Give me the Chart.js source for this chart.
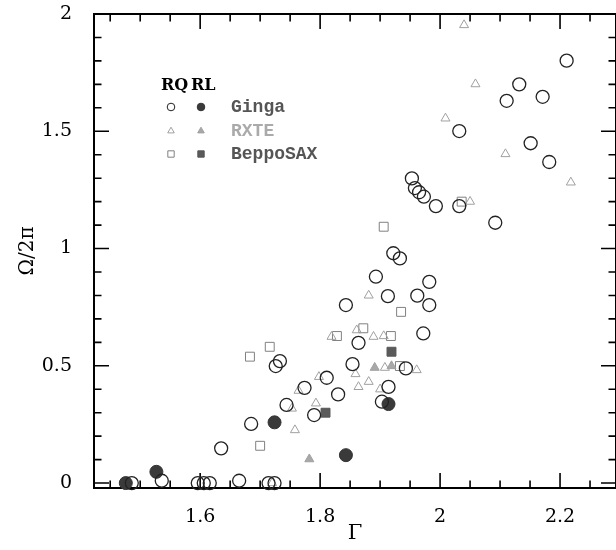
<!DOCTYPE html>
<html>
<head>
<meta charset="utf-8">
<script src="https://cdn.jsdelivr.net/npm/chart.js@4.4.1/dist/chart.umd.min.js"></script>
<style>
  html, body { margin: 0; padding: 0; background: #fff; overflow: hidden; }
</style>
</head>
<body>
<canvas id="chart" width="616" height="550"></canvas>
<script>
// photon index (Gamma) vs reflection fraction (Omega/2pi)
const gingaRQGamma = [1.486, 1.536, 1.596, 1.606, 1.616, 1.665, 1.714, 1.724, 1.635, 1.685, 1.744, 1.79, 1.774, 1.83, 1.811, 1.726, 1.733, 1.854, 1.864, 1.843, 1.903, 1.914, 1.943, 1.972, 1.913, 1.962, 1.982, 1.982, 1.893, 1.922, 1.933, 1.953, 1.958, 1.965, 1.973, 1.993, 2.032, 2.092, 2.032, 2.111, 2.132, 2.171, 2.151, 2.182, 2.211];
const gingaRQOmega = [0.0, 0.01, 0.0, 0.0, 0.0, 0.01, 0.0, 0.0, 0.148, 0.252, 0.333, 0.29, 0.406, 0.378, 0.449, 0.499, 0.52, 0.507, 0.598, 0.759, 0.347, 0.41, 0.489, 0.638, 0.797, 0.799, 0.759, 0.858, 0.88, 0.98, 0.958, 1.299, 1.258, 1.24, 1.221, 1.181, 1.181, 1.11, 1.501, 1.63, 1.70, 1.647, 1.449, 1.369, 1.801];

const gingaRLGamma = [1.476, 1.527, 1.724, 1.843, 1.914];
const gingaRLOmega = [0.0, 0.048, 0.259, 0.119, 0.337];

const rxteRQGamma = [1.72, 1.758, 1.753, 1.793, 1.764, 1.798, 1.859, 1.881, 1.864, 1.90, 1.908, 1.961, 1.819, 1.861, 1.889, 1.906, 1.881, 2.05, 2.009, 2.059, 2.04, 2.109, 2.218];
const rxteRQOmega = [0.0, 0.226, 0.318, 0.34, 0.394, 0.453, 0.465, 0.432, 0.41, 0.40, 0.492, 0.482, 0.624, 0.652, 0.624, 0.627, 0.80, 1.20, 1.555, 1.701, 1.953, 1.403, 1.282];

const rxteRLGamma = [1.782, 1.891, 1.919];
const rxteRLOmega = [0.102, 0.492, 0.499];

const saxRQGamma = [1.70, 1.683, 1.716, 1.828, 1.872, 1.918, 1.933, 1.935, 1.906, 2.036];
const saxRQOmega = [0.159, 0.539, 0.581, 0.627, 0.66, 0.627, 0.499, 0.73, 1.093, 1.20];

const saxRLGamma = [1.919, 1.809];
const saxRLOmega = [0.56, 0.30];

const xTicks = [1.6, 1.8, 2, 2.2];
const yTicks = [0, 0.5, 1, 1.5, 2];

const legendRows = ['Ginga', 'RXTE', 'BeppoSAX'];

function pts(xs, ys) {
  return xs.map((x, i) => ({ x: x, y: ys[i] }));
}

const styles = {
  gingaRQ: { pointStyle: 'circle', radius: 6.5, border: '#222', fill: 'rgba(0,0,0,0)', bw: 1.3 },
  gingaRL: { pointStyle: 'circle', radius: 6.5, border: '#333', fill: '#3a3a3a', bw: 1 },
  rxteRQ: { pointStyle: 'triangle', radius: 5.2, border: '#a0a0a0', fill: 'rgba(0,0,0,0)', bw: 1 },
  rxteRL: { pointStyle: 'triangle', radius: 5.2, border: '#a0a0a0', fill: '#a8a8a8', bw: 1 },
  saxRQ: { pointStyle: 'rect', radius: 6.3, border: '#808080', fill: 'rgba(0,0,0,0)', bw: 1 },
  saxRL: { pointStyle: 'rect', radius: 6.3, border: '#555', fill: '#5a5a5a', bw: 1 }
};

function ds(label, xs, ys, st) {
  return {
    label: label,
    data: pts(xs, ys),
    pointStyle: st.pointStyle,
    pointRadius: st.radius,
    pointBorderColor: st.border,
    pointBackgroundColor: st.fill,
    pointBorderWidth: st.bw,
    clip: false
  };
}

// frame with inward ticks on all four sides
const framePlugin = {
  id: 'frame',
  beforeDatasetsDraw(chart) {
    const ctx = chart.ctx;
    const a = chart.chartArea;
    const xs = chart.scales.x, ys = chart.scales.y;
    ctx.save();
    ctx.strokeStyle = '#000';
    ctx.lineWidth = 2;
    ctx.strokeRect(a.left, a.top, a.right - a.left, a.bottom - a.top);
    ctx.lineWidth = 1.6;
    ctx.beginPath();
    for (let k = 29; k <= 45; k++) {
      const v = k * 0.05;
      const px = xs.getPixelForValue(v);
      if (px <= a.left || px >= a.right) continue;
      const len = (k % 4 === 0) ? 15 : 7.5;
      ctx.moveTo(px, a.bottom); ctx.lineTo(px, a.bottom - len);
      ctx.moveTo(px, a.top); ctx.lineTo(px, a.top + len);
    }
    for (let k = 0; k <= 20; k++) {
      const v = k * 0.1;
      const py = ys.getPixelForValue(v);
      if (py < a.top + 1) continue;
      const len = (k % 5 === 0) ? 15 : 7.5;
      ctx.moveTo(a.left, py); ctx.lineTo(a.left + len, py);
      ctx.moveTo(a.right, py); ctx.lineTo(a.right - len, py);
    }
    ctx.stroke();
    ctx.restore();
  },
  afterDraw(chart) {
    const ctx = chart.ctx;
    const dp = Chart.helpers.drawPoint;
    ctx.save();
    ctx.fillStyle = '#000';
    ctx.font = 'bold 16px "DejaVu Serif"';
    ctx.textBaseline = 'alphabetic';
    ctx.fillText('RQ', 161, 90);
    ctx.fillText('RL', 191, 90);
    const rowY = [107, 131, 154];
    const textCol = ['#555', '#aaa', '#555'];
    const keys = [['gingaRQ', 'gingaRL'], ['rxteRQ', 'rxteRL'], ['saxRQ', 'saxRL']];
    for (let i = 0; i < 3; i++) {
      [171, 201].forEach((cx, j) => {
        const st = styles[keys[i][j]];
        ctx.fillStyle = st.fill;
        ctx.strokeStyle = st.border;
        ctx.lineWidth = 1;
        dp(ctx, { pointStyle: st.pointStyle, radius: st.pointStyle === 'rect' ? 4.5 : 3.8, borderWidth: 1, rotation: 0 }, cx, rowY[i]);
      });
      ctx.fillStyle = textCol[i];
      ctx.font = 'bold 18px "Liberation Mono"';
      ctx.textBaseline = 'middle';
      ctx.fillText(legendRows[i], 231, rowY[i]);
    }
    ctx.restore();
  }
};

const tickFont = { family: '"DejaVu Serif"', size: 19 };

new Chart(document.getElementById('chart'), {
  type: 'scatter',
  data: {
    datasets: [
      ds('Ginga RQ', gingaRQGamma, gingaRQOmega, styles.gingaRQ),
      ds('Ginga RL', gingaRLGamma, gingaRLOmega, styles.gingaRL),
      ds('RXTE RQ', rxteRQGamma, rxteRQOmega, styles.rxteRQ),
      ds('RXTE RL', rxteRLGamma, rxteRLOmega, styles.rxteRL),
      ds('BeppoSAX RQ', saxRQGamma, saxRQOmega, styles.saxRQ),
      ds('BeppoSAX RL', saxRLGamma, saxRLOmega, styles.saxRL)
    ]
  },
  options: {
    responsive: false,
    animation: false,
    devicePixelRatio: 1,
    layout: { autoPadding: false, padding: { top: 14, right: 0, left: 0, bottom: 0 } },
    plugins: { legend: { display: false }, tooltip: { enabled: false } },
    scales: {
      x: {
        type: 'linear',
        min: 1.423,
        max: 2.2933,
        grid: { display: false },
        border: { display: false },
        afterBuildTicks: s => { s.ticks = xTicks.map(v => ({ value: v })); },
        afterFit: s => { s.height = 62; s.paddingLeft = 0; s.paddingRight = 0; },
        ticks: { color: '#000', font: tickFont, padding: 10, maxRotation: 0, callback: v => String(v) },
        title: { display: true, text: 'Γ', color: '#000', font: { family: '"DejaVu Serif"', size: 21 }, padding: { top: 12 } }
      },
      y: {
        type: 'linear',
        min: -0.021,
        max: 2,
        grid: { display: false },
        border: { display: false },
        afterBuildTicks: s => { s.ticks = yTicks.map(v => ({ value: v })); },
        afterFit: s => { s.width = 94; s.paddingTop = 0; s.paddingBottom = 0; },
        ticks: { color: '#000', font: tickFont, padding: 14, callback: v => String(v) },
        title: { display: true, text: 'Ω/2π', color: '#000', font: { family: '"DejaVu Serif"', size: 20 }, padding: { top: 16, bottom: 0 } }
      }
    }
  },
  plugins: [framePlugin]
});
</script>
</body>
</html>
